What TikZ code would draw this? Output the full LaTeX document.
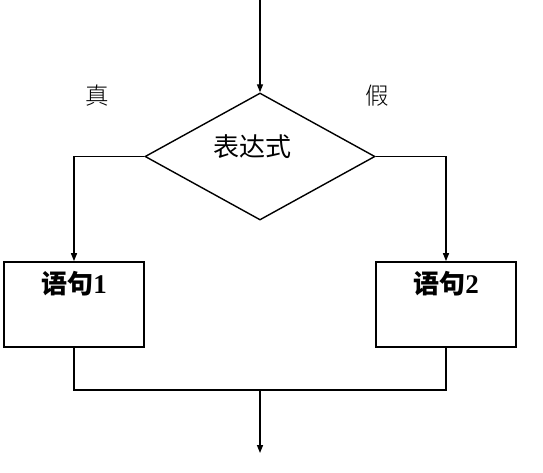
\documentclass[tikz,border=0pt]{standalone}
\usepackage{fontspec}
\setmainfont{Liberation Serif}
\newfontfamily\cjk{Noto Sans CJK SC}
\newfontfamily\cjklight{Noto Sans CJK SC Light}
\usetikzlibrary{arrows.meta,shapes.geometric}
\begin{document}
\begin{tikzpicture}[x=1pt,y=-1pt,line width=1.4pt,
  arr/.style={-{Triangle[length=8pt,width=6pt]}},
  decision/.style={diamond,draw,minimum width=230pt,minimum height=127pt,inner sep=0pt},
  stmt/.style={rectangle,draw,line width=1.7pt,minimum width=140pt,minimum height=85pt,inner sep=0pt},
  lbl/.style={inner sep=0pt,font=\fontsize{23.5}{24}\selectfont\cjklight},
  txt/.style={inner sep=0pt,font=\fontsize{26}{26}\selectfont\cjk},
  btxt/.style={inner sep=0pt,font=\fontsize{27}{27}\selectfont\bfseries}]
\useasboundingbox (0,0) rectangle (543,473);
\coordinate (start) at (260,0);
\node[decision] (d) at (260,156.5) {};
\node[txt] (dt) at (252,147) {表达式};
\node[lbl] (t) at (97,96) {真};
\node[lbl] (f) at (377,96) {假};
\node[stmt] (b1) at (74,304.5) {};
\node[stmt] (b2) at (446,304.5) {};
\node[btxt] (s1) at (74,284) {{\cjk\bfseries\fontsize{26}{26}\selectfont 语句}1};
\node[btxt] (s2) at (446,284) {{\cjk\bfseries\fontsize{26}{26}\selectfont 语句}2};
\coordinate (join) at (260,390);
\coordinate (end) at (260,453);
\draw[arr] (start) -- (d.north);
\draw[arr] (d.west) -| (b1.north);
\draw[arr] (d.east) -| (b2.north);
\draw (b1.south) |- (join) -| (b2.south);
\draw[arr] (join) -- (end);
\end{tikzpicture}
\end{document}
